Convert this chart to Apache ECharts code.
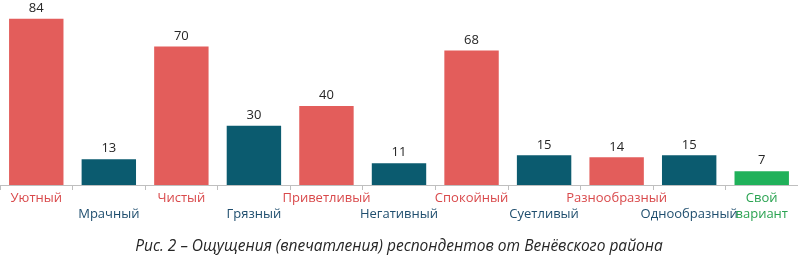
<!DOCTYPE html>
<html>
<head>
<meta charset="utf-8">
<title>Ощущения респондентов</title>
<script src="https://cdn.jsdelivr.net/npm/echarts@6/dist/echarts.min.js"></script>
<style>
  html, body { margin: 0; padding: 0; background: #fff; }
  #chart { width: 798px; height: 257px; }
</style>
</head>
<body>
<div id="chart"></div>
<script>
// данные
var categories = ['Уютный', 'Мрачный', 'Чистый', 'Грязный', 'Приветливый', 'Негативный',
                  'Спокойный', 'Суетливый', 'Разнообразный', 'Однообразный', 'Свой вариант'];
var values = [84, 13, 70, 30, 40, 11, 68, 15, 14, 15, 7];
// тип: r - положительный, t - отрицательный, g - свой вариант
var kinds = ['r', 't', 'r', 't', 'r', 't', 'r', 't', 'r', 't', 'g'];
var caption = 'Рис. 2 – Ощущения (впечатления) респондентов от Венёвского района';

var colors = { r: '#e35d5b', t: '#0b5b6f', g: '#20b15a' };
var labelColors = { r: '#d9494b', t: '#1f4e6e', g: '#2aa351' };

var chart = echarts.init(document.getElementById('chart'));

var data = [];
for (var i = 0; i < values.length; i++) {
  data.push({ value: values[i], itemStyle: { color: colors[kinds[i]] } });
}

var option = {
  animation: false,
  textStyle: { fontFamily: 'Open Sans' },
  title: {
    text: caption,
    left: 'center',
    bottom: -3,
    textStyle: { fontSize: 15.5, fontStyle: 'italic', fontWeight: 'normal', color: '#262626', fontFamily: 'Open Sans' }
  },
  grid: { left: 0, right: -2, top: 7, bottom: 72 },
  xAxis: {
    type: 'category',
    data: categories,
    axisLine: { lineStyle: { color: '#bfbfbf' } },
    axisTick: { show: true, length: 5, lineStyle: { color: '#bfbfbf' } },
    axisLabel: {
      interval: 0,
      margin: 5,
      formatter: function (v, idx) {
        var k = kinds[idx];
        if (k === 'g') return '{g|Свой}\n{g|вариант}';
        if (k === 't') return '{t| }\n{t|' + v + '}';
        return '{r|' + v + '}\n{r| }';
      },
      rich: {
        r: { color: labelColors.r, fontSize: 13, lineHeight: 16, fontFamily: 'Open Sans' },
        t: { color: labelColors.t, fontSize: 13, lineHeight: 16, fontFamily: 'Open Sans' },
        g: { color: labelColors.g, fontSize: 13, lineHeight: 16, fontFamily: 'Open Sans' }
      }
    }
  },
  yAxis: {
    type: 'value',
    min: 0,
    max: 90,
    show: false,
    splitLine: { show: false }
  },
  series: [{
    type: 'bar',
    data: data,
    barWidth: '75%',
    label: {
      show: true,
      position: 'top',
      distance: 4,
      color: '#262626',
      fontSize: 13,
      fontFamily: 'Open Sans'
    }
  }]
};

chart.setOption(option);
</script>
</body>
</html>
